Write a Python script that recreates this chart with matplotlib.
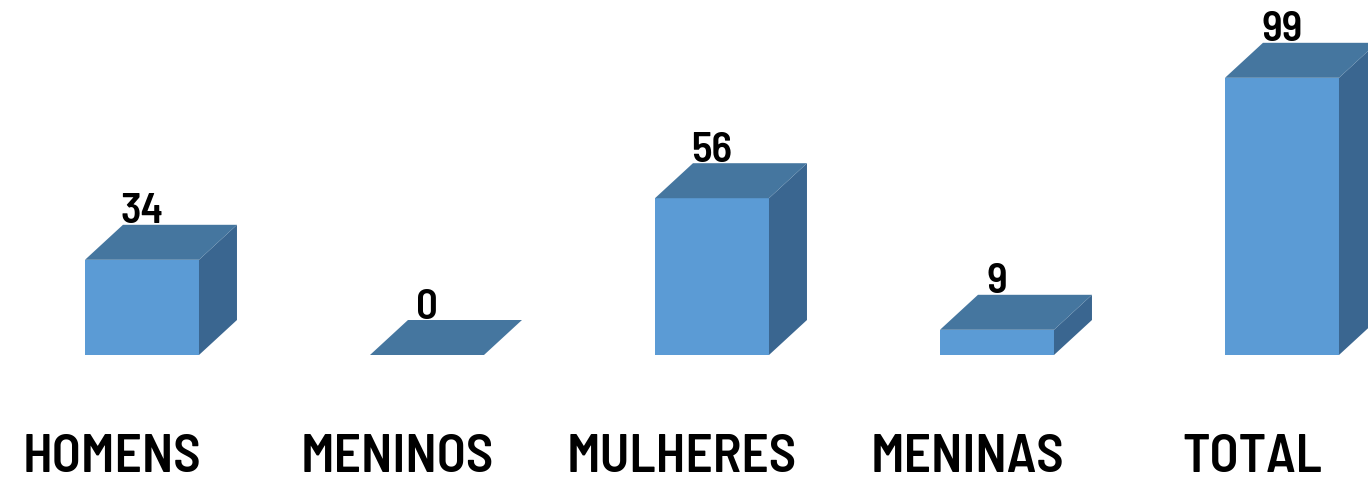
import matplotlib
matplotlib.use("Agg")
import matplotlib.pyplot as plt
from matplotlib.patches import Polygon
from matplotlib import font_manager
import matplotlib.transforms as mtransforms

categories = ["HOMENS", "MENINOS", "MULHERES", "MENINAS", "TOTAL"]
values = [34, 0, 56, 9, 99]

front_color = "#5B9BD5"
top_color = "#45769F"
side_color = "#3A6690"

names = {f.name for f in font_manager.fontManager.ttflist}
fam = "DejaVu Sans"
for cand in ["Barlow Semi Condensed", "Asap Condensed", "Archivo Narrow", "Liberation Sans"]:
    if cand in names:
        fam = cand
        break

fig = plt.figure(figsize=(13.68, 4.82), dpi=100)
ax = fig.add_axes([0, 0, 1, 1])
ax.set_xlim(-0.4982, 4.3018)
ax.set_ylim(-45.36, 126.79)
ax.axis("off")

w = 0.4          # bar width in category units
dx = 0.1333      # depth offset x
dy = 12.5        # depth offset y (value units)

for i, v in enumerate(values):
    x0, x1 = i - w / 2, i + w / 2
    front = Polygon([(x0, 0), (x1, 0), (x1, v), (x0, v)], closed=True,
                    facecolor=front_color, edgecolor="none")
    top = Polygon([(x0, v), (x1, v), (x1 + dx, v + dy), (x0 + dx, v + dy)], closed=True,
                  facecolor=top_color, edgecolor="none")
    side = Polygon([(x1, 0), (x1 + dx, dy), (x1 + dx, v + dy), (x1, v)], closed=True,
                   facecolor=side_color, edgecolor="none")
    for p in (front, side, top):
        ax.add_patch(p)
    ax.annotate(str(v), xy=(i, v + dy), xytext=(0, 1), textcoords="offset points",
                ha="center", va="baseline", fontsize=31, fontweight="semibold",
                family=fam, color="black")

trans = mtransforms.blended_transform_factory(ax.transData, ax.transAxes)
for i, c in enumerate(categories):
    ax.text(i - 0.105, 10 / 482, c, transform=trans, ha="center", va="baseline",
            fontsize=38.5, fontweight="semibold", family=fam, color="black")

fig.savefig("out.png", dpi=100)
